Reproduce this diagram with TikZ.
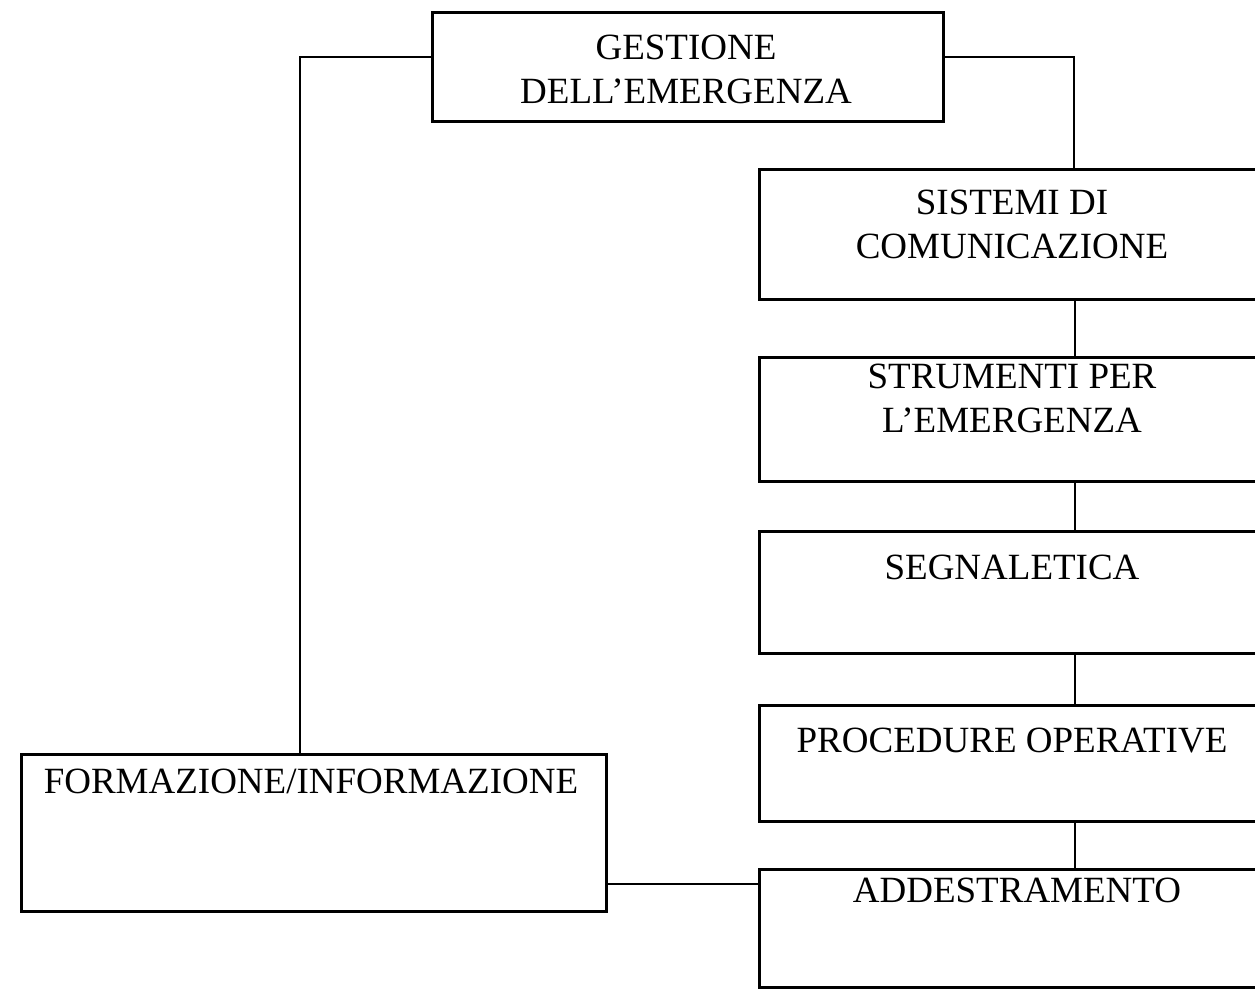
\documentclass[tikz,border=0pt]{standalone}
\usepackage{fontspec}
\setmainfont{Liberation Serif}
\begin{document}
\begin{tikzpicture}[x=1pt,y=-1pt,
  box/.style={draw=black,line width=3.4pt,inner sep=0pt,anchor=north west},
  rbox/.style={box,minimum width=510pt},
  lbl/.style={font=\fontsize{37}{44}\selectfont,align=center,inner sep=0pt,anchor=base},
  conn/.style={draw=black,line width=1.6pt}]
\useasboundingbox (0,0) rectangle (1255,989);
\clip (0,0) rectangle (1255,989);
\fill[white] (0,0) rectangle (1255,989);
% boxes
\node[box,minimum width=511pt,minimum height=109pt] (G) at (431,11) {};
\node[rbox,minimum height=130pt] (S1) at (758,168) {};
\node[rbox,minimum height=124pt] (S2) at (758,356) {};
\node[rbox,minimum height=122pt] (S3) at (758,530) {};
\node[rbox,minimum height=116pt] (S4) at (758,704) {};
\node[rbox,minimum height=118pt] (A) at (758,868) {};
\node[box,minimum width=585pt,minimum height=157pt] (F) at (20,753) {};
% labels (multi-line: base = last line baseline)
\node[lbl] (tG) at (686,103) {GESTIONE\\DELL’EMERGENZA};
\node[lbl] (t1) at (1012,258) {SISTEMI DI\\COMUNICAZIONE};
\node[lbl] (t2) at (1012,432) {STRUMENTI PER\\L’EMERGENZA};
\node[lbl] (t3) at (1012,579) {SEGNALETICA};
\node[lbl] (t4) at (1012,752) {PROCEDURE OPERATIVE};
\node[lbl] (t5) at (1017,902) {ADDESTRAMENTO};
\node[lbl] (tF) at (311,793) {FORMAZIONE/INFORMAZIONE};
% connectors
\coordinate (c1) at (300,57);
\coordinate (c2) at (1074,57);
\coordinate (cx) at (1075,0);
\coordinate (c3) at (680,884);
\draw[conn] (G.west |- c1) -- (c1) -- (c1 |- F.north);
\draw[conn] (G.east |- c2) -- (c2) -- (c2 |- S1.north);
\draw[conn] (S1.south -| cx) -- (S2.north -| cx);
\draw[conn] (S2.south -| cx) -- (S3.north -| cx);
\draw[conn] (S3.south -| cx) -- (S4.north -| cx);
\draw[conn] (S4.south -| cx) -- (A.north -| cx);
\draw[conn] (F.east |- c3) -- (A.west |- c3);
\end{tikzpicture}
\end{document}
